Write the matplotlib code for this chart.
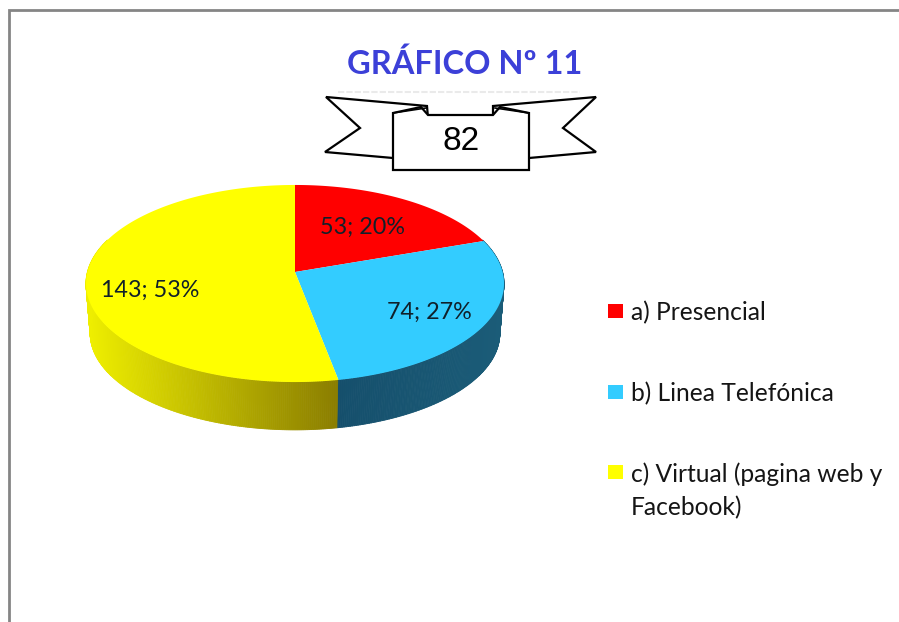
import numpy as np
import matplotlib
matplotlib.use("Agg")
import matplotlib.pyplot as plt
from matplotlib.collections import PolyCollection
from matplotlib.patches import Polygon

plt.rcParams['font.family'] = ['Lato', 'DejaVu Sans']

title = "GRÁFICO Nº 11"
stamp = "82"
categories = ["a) Presencial", "b) Linea Telefónica", "c) Virtual (pagina web y\nFacebook)"]
values = [53, 74, 143]
percents = [20, 27, 53]
colors = ["#ff0000", "#33ccff", "#ffff00"]

fig = plt.figure(figsize=(8.99, 6.22), dpi=100, facecolor="white")
ax = fig.add_axes([0, 0, 1, 1])
ax.set_xlim(0, 899)
ax.set_ylim(622, 0)
ax.axis("off")

# frame of the original chart area
ax.plot([9, 9, 899], [622, 9.5, 9.5], color="#858585", lw=2, solid_joinstyle="miter", zorder=1)

# perspective projection of the unit disc
CX, CY, A, B, K = 295.0, 272.0, 207.6, 97.2, 0.1168


def project(theta, r=1.0, scale=1.0, dy=0.0):
    u, v = r * np.sin(theta), r * np.cos(theta)
    w = 1 + K * v
    return CX + scale * A * u / w, CY + dy - scale * B * v / w


edges = 2 * np.pi * np.concatenate([[0], np.cumsum(values)]) / np.sum(values)
DEPTH, BSCALE = 50.0, 0.98


def mix(c0, c1, t):
    return tuple((1 - t) * np.array(matplotlib.colors.to_rgb(c0)) + t * np.array(matplotlib.colors.to_rgb(c1)))


# side wall
thetas = np.radians(np.linspace(70, 290, 441))
polys, cols = [], []
for t0, t1 in zip(thetas[:-1], thetas[1:]):
    x0, y0 = project(t0)
    x1, y1 = project(t1)
    x2, y2 = project(t1, scale=BSCALE, dy=DEPTH)
    x3, y3 = project(t0, scale=BSCALE, dy=DEPTH)
    polys.append([(x0, y0), (x1, y1), (x2, y2), (x3, y3)])
    mid = (t0 + t1) / 2
    xm = (x0 + x1) / 2
    if mid < edges[2]:
        cols.append(mix("#154f6c", "#1b5c78", np.clip((xm - 338) / 165, 0, 1)))
    else:
        cols.append(mix("#8a7d00", "#eeee00", np.clip((338 - xm) / 250, 0, 1)))
ax.add_collection(PolyCollection(polys, facecolors=cols, edgecolors=cols, linewidths=0.6, zorder=2))

# top face
for i, col in enumerate(colors):
    t = np.linspace(edges[i], edges[i + 1], 200)
    x, y = project(t)
    ax.fill(np.r_[CX, x], np.r_[CY, y], color=col, lw=0, zorder=3)

# data labels
label_pos = [(362, 227), (429, 312), (150, 290)]
for v, p, (lx, ly) in zip(values, percents, label_pos):
    ax.text(lx, ly, f"{v}; {p}%", ha="center", va="center", fontsize=16.8, color="#10202a", zorder=5)

# legend
legend_y = [311, 392, 472]
for cat, col, ly in zip(categories, colors, legend_y):
    ax.add_patch(plt.Rectangle((608, ly - 7), 15, 14, color=col, lw=0, zorder=4))
    ax.text(631, ly - 10, cat, ha="left", va="top", fontsize=17.7, color="#151515",
            linespacing=1.55, zorder=5)

# title
ax.text(465, 64, title, ha="center", va="center", fontsize=23.5, fontweight="bold", color="#3c40d8", zorder=5)
ax.plot([338, 580], [92, 92], color="#eaeaea", lw=1.5, ls=(0, (3, 1)), zorder=4)

# ribbon with the number
rib = dict(facecolor="white", edgecolor="black", lw=1.6, joinstyle="miter", zorder=6)
ax.add_patch(Polygon([(326, 97), (427, 106), (428, 118), (393, 158), (325, 152), (360, 128)], closed=True, **rib))
ax.add_patch(Polygon([(596, 97), (493, 106), (493, 118), (529, 158), (596, 152), (563, 128)], closed=True, **rib))
ax.add_patch(Polygon([(393, 113), (421, 107), (428, 115), (493, 115), (500, 107), (529, 113), (529, 170), (393, 170)],
                     closed=True, **rib))
ax.plot([393, 426], [113, 108], color="black", lw=1.2, zorder=7)
ax.plot([529, 495], [113, 108], color="black", lw=1.2, zorder=7)
ax.text(461, 142, stamp, ha="center", va="center", fontsize=24, family="Liberation Sans", color="black", zorder=8)

fig.savefig("out.png", dpi=100, facecolor="white")
